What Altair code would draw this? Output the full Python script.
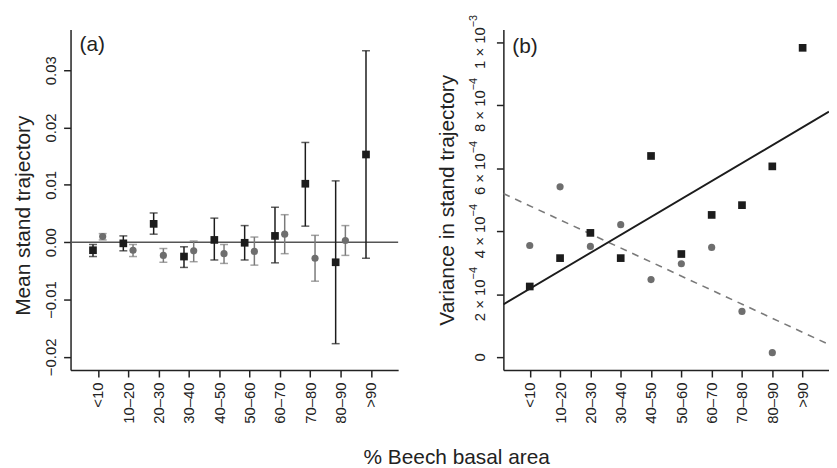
import altair as alt
import pandas as pd

FONT = "Liberation Sans"

categories = ["<10", "10–20", "20–30", "30–40", "40–50", "50–60", "60–70", "70–80", "80–90", ">90"]
idx = list(range(1, 11))

# Panel (a): mean stand trajectory with error bars
a_sq_mean = [-0.0014, -0.0002, 0.0032, -0.0025, 0.0004, -0.0001, 0.0011, 0.0102, -0.0035, 0.0153]
a_sq_lo = [-0.0025, -0.0015, 0.0014, -0.0044, -0.0031, -0.0031, -0.0036, 0.0028, -0.0177, -0.0028]
a_sq_hi = [-0.0004, 0.0011, 0.0051, -0.0008, 0.0042, 0.0029, 0.0061, 0.0174, 0.0107, 0.0334]
a_ci_mean = [0.0010, -0.0014, -0.0023, -0.0015, -0.0020, -0.0016, 0.0014, -0.0028, 0.0003]
a_ci_lo = [0.0004, -0.0025, -0.0035, -0.0034, -0.0037, -0.0040, -0.0020, -0.0068, -0.0023]
a_ci_hi = [0.0015, -0.0004, -0.0011, 0.0002, -0.0004, 0.0009, 0.0048, 0.0012, 0.0029]

# Panel (b): variance in stand trajectory
b_sq = [2.25e-4, 3.15e-4, 3.95e-4, 3.15e-4, 6.39e-4, 3.28e-4, 4.52e-4, 4.83e-4, 6.06e-4, 9.82e-4]
b_ci = [3.55e-4, 5.41e-4, 3.52e-4, 4.21e-4, 2.47e-4, 2.97e-4, 3.49e-4, 1.46e-4, 0.15e-4]

a_ticks = [-0.02, -0.01, 0.0, 0.01, 0.02, 0.03]
b_ticks = [0, 2e-4, 4e-4, 6e-4, 8e-4, 1e-3]
b_tick_main = ["0", "2 × 10", "4 × 10", "6 × 10", "8 × 10", "1 × 10"]
b_tick_exp = ["", "−4", "−4", "−4", "−4", "−3"]

BLACK = "#1c1c1c"
GREY = "#6e6e6e"
GREY_BAR = "#7a7a7a"
TXT = "#222222"
LAB = 15

df_a_sq = pd.DataFrame({"i": idx, "mean": a_sq_mean, "lo": a_sq_lo, "hi": a_sq_hi})
df_a_ci = pd.DataFrame({"i": idx[:9], "mean": a_ci_mean, "lo": a_ci_lo, "hi": a_ci_hi})
df_b_sq = pd.DataFrame({"i": idx, "v": b_sq})
df_b_ci = pd.DataFrame({"i": idx[:9], "v": b_ci})
df_b_lab = pd.DataFrame({"v": b_ticks, "main": b_tick_main, "exp": b_tick_exp})

x_label_expr = "[" + ",".join("'%s'" % c for c in categories) + "][round(datum.value) - 1]"

xa_domain = [0.1, 10.9]
xb_domain = [0.13, 10.87]

x_axis = alt.Axis(values=idx, labelExpr=x_label_expr, labelAngle=270, title=None,
                  labelAlign="right", labelBaseline="middle", labelFlush=False,
                  labelOverlap=False, labelPadding=5)
xa = alt.Scale(domain=xa_domain, nice=False, zero=False)
xb = alt.Scale(domain=xb_domain, nice=False, zero=False)

ya = alt.Scale(domain=[-0.0223, 0.0371], nice=False, zero=False)
ya_axis = alt.Axis(values=a_ticks, format=".2f", labelAngle=270, labelAlign="center",
                   labelBaseline="bottom", title="Mean stand trajectory",
                   labelFlush=False, labelOverlap=False, labelPadding=5, titlePadding=10,
                   titleY=187)
yb = alt.Scale(domain=[-0.00004, 0.00104], nice=False, zero=False)
yb_axis = alt.Axis(values=b_ticks, labels=False, title="Variance in stand trajectory",
                   titlePadding=38)


def xenc(field, scale):
    return alt.X(field, type="quantitative", scale=scale, axis=x_axis)


# ---- panel (a)
zero = alt.Chart(pd.DataFrame({"y": [0.0]})).mark_rule(color="#555555", strokeWidth=1.5).encode(
    y=alt.Y("y:Q", scale=ya, axis=ya_axis))


def err_layers(df, shift, color, point_mark):
    base = alt.Chart(df).transform_calculate(xp="datum.i + (%f)" % shift)
    bars = base.mark_rule(color=color, strokeWidth=1.5).encode(
        x=xenc("xp", xa), y=alt.Y("lo:Q", scale=ya, axis=ya_axis), y2="hi:Q")
    cap_lo = base.mark_tick(orient="horizontal", size=8, thickness=1.5, color=color).encode(
        x=xenc("xp", xa), y=alt.Y("lo:Q", scale=ya, axis=ya_axis))
    cap_hi = base.mark_tick(orient="horizontal", size=8, thickness=1.5, color=color).encode(
        x=xenc("xp", xa), y=alt.Y("hi:Q", scale=ya, axis=ya_axis))
    pts = point_mark(base).encode(x=xenc("xp", xa), y=alt.Y("mean:Q", scale=ya, axis=ya_axis))
    return [bars, cap_lo, cap_hi, pts]


sq_layers = err_layers(df_a_sq, -0.16, BLACK,
                       lambda b: b.mark_square(size=60, color=BLACK, opacity=1))
ci_layers = err_layers(df_a_ci, 0.16, GREY_BAR,
                       lambda b: b.mark_circle(size=52, color=GREY, opacity=1))

label_a = alt.Chart(pd.DataFrame({"t": ["(a)"]})).mark_text(
    align="left", baseline="middle", fontSize=21, font=FONT, color=TXT).encode(
    text="t:N", x=alt.value(9), y=alt.value(16))

panel_a = alt.layer(zero, *ci_layers, *sq_layers, label_a).properties(width=330, height=343)

# ---- panel (b)
line_sq = alt.Chart(df_b_sq).transform_regression("i", "v", extent=xb_domain).mark_line(
    color=BLACK, strokeWidth=1.9, clip=True).encode(
    x=xenc("i", xb), y=alt.Y("v:Q", scale=yb, axis=yb_axis))
line_ci = alt.Chart(df_b_ci).transform_regression("i", "v", extent=xb_domain).mark_line(
    color="#7a7a7a", strokeWidth=1.6, strokeDash=[7, 6], clip=True).encode(
    x=xenc("i", xb), y=alt.Y("v:Q", scale=yb, axis=yb_axis))
pts_ci = alt.Chart(df_b_ci).mark_circle(size=52, color=GREY, opacity=1).encode(
    x=xenc("i", xb), y=alt.Y("v:Q", scale=yb, axis=yb_axis))
pts_sq = alt.Chart(df_b_sq).mark_square(size=60, color=BLACK, opacity=1).encode(
    x=xenc("i", xb), y=alt.Y("v:Q", scale=yb, axis=yb_axis))
label_b = alt.Chart(pd.DataFrame({"t": ["(b)"]})).mark_text(
    align="left", baseline="middle", fontSize=21, font=FONT, color=TXT).encode(
    text="t:N", x=alt.value(9), y=alt.value(18))

# y tick labels of panel (b) with real superscript exponents
lab_base = alt.Chart(df_b_lab)
lab_plain = lab_base.transform_filter("datum.exp == ''").mark_text(
    angle=270, align="center", baseline="middle", fontSize=LAB, font=FONT, color=TXT).encode(
    text="main:N", x=alt.value(-24), y=alt.Y("v:Q", scale=yb, axis=yb_axis))
lab_main = lab_base.transform_filter("datum.exp != ''").mark_text(
    angle=270, align="center", baseline="middle", fontSize=LAB, font=FONT, color=TXT,
    dx=-6).encode(
    text="main:N", x=alt.value(-24), y=alt.Y("v:Q", scale=yb, axis=yb_axis))
lab_exp = lab_base.transform_filter("datum.exp != ''").mark_text(
    angle=270, align="left", baseline="middle", fontSize=11, font=FONT, color=TXT,
    dx=15, dy=-6).encode(
    text="exp:N", x=alt.value(-24), y=alt.Y("v:Q", scale=yb, axis=yb_axis))

panel_b = alt.layer(line_ci, line_sq, pts_ci, pts_sq, label_b,
                    lab_plain, lab_main, lab_exp).properties(width=328, height=343)

chart = alt.HConcatChart(
    hconcat=[panel_a, panel_b],
    spacing=106,
    bounds="flush",
    title=alt.TitleParams("% Beech basal area", orient="bottom", anchor="middle",
                          fontSize=21, font=FONT, fontWeight="normal", color=TXT,
                          offset=24, dx=36),
).configure_view(stroke=None).configure_axis(
    domainColor="#222", domainWidth=1.5, tickColor="#222", tickWidth=1.5, tickSize=7,
    labelColor=TXT, labelFont=FONT, labelFontSize=LAB, titleFont=FONT, titleFontSize=21,
    titleFontWeight="normal", titleColor=TXT, grid=False,
).properties(padding={"left": 5, "top": 5, "right": 0, "bottom": 0})

chart.save("out.html", embed_options={"renderer": "svg", "actions": False})
